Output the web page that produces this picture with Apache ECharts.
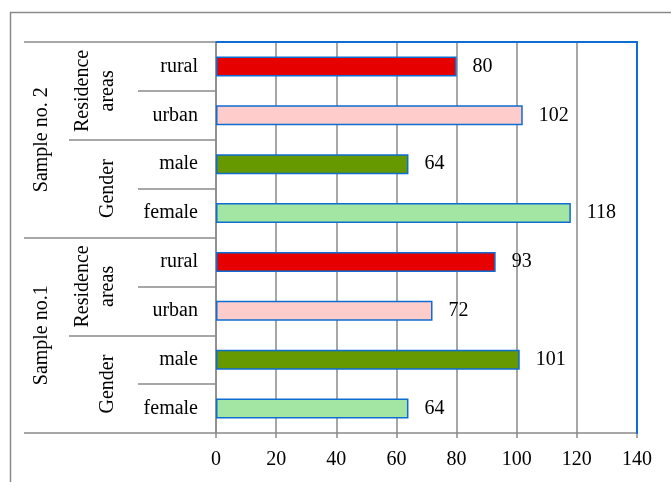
<!DOCTYPE html>
<html>
<head>
<meta charset="utf-8">
<script src="https://cdn.jsdelivr.net/npm/echarts@6/dist/echarts.min.js"></script>
<style>html,body{margin:0;padding:0;background:#fff;}#c{width:671px;height:482px;}</style>
</head>
<body>
<div id="c"></div>
<script>
// Data (bottom to top, as on the chart's category axis)
const itemLabels = ['female', 'male', 'urban', 'rural', 'female', 'male', 'urban', 'rural'];
const subLabels = ['Gender', 'Residence\nareas', 'Gender', 'Residence\nareas'];
const groupLabels = ['Sample no.1', 'Sample no. 2'];
const values = [64, 101, 72, 93, 118, 64, 102, 80];
const xTicks = [0, 20, 40, 60, 80, 100, 120, 140];
const itemColors = { female: '#A3E6A3', male: '#669900', urban: '#FFCCCC', rural: '#E60000' };

const FONT = 'Liberation Serif, Times New Roman, serif';
const GRAY = '#8a8a8a';
const BLUE = '#0F6CD2';

const chart = echarts.init(document.getElementById('c'), null, { renderer: 'canvas' });
chart.setOption({
  animation: false,
  graphic: [{
    type: 'rect', silent: true, z: -1,
    shape: { x: 10.5, y: 12.5, width: 700, height: 500 },
    style: { fill: 'none', stroke: GRAY, lineWidth: 1.5 }
  }],
  grid: { left: 216, right: 34, top: 42, bottom: 49, containLabel: false },
  xAxis: [{
    type: 'value', min: xTicks[0], max: xTicks[xTicks.length - 1], interval: 20,
    axisLine: { show: true, lineStyle: { color: GRAY, width: 1.5 } },
    axisTick: { show: true, length: 5, lineStyle: { color: GRAY, width: 1.5 } },
    axisLabel: { fontFamily: FONT, fontSize: 20, color: '#000', margin: 17 },
    splitLine: { show: true, lineStyle: { color: GRAY, width: 1.5 } }
  }, {
    type: 'value', position: 'top', min: 0, max: 140, interval: 20,
    axisLine: { show: true, lineStyle: { color: BLUE, width: 2 } },
    axisTick: { show: false }, axisLabel: { show: false }, splitLine: { show: false }
  }],
  yAxis: [{
    type: 'category', data: itemLabels, position: 'left',
    axisLine: { show: true, lineStyle: { color: GRAY, width: 1.5 } },
    axisTick: { show: true, length: 78, lineStyle: { color: GRAY, width: 1.5 } },
    axisLabel: { interval: 0, fontFamily: FONT, fontSize: 20, color: '#000', margin: 18 },
    splitLine: { show: false }
  }, {
    type: 'category', data: subLabels, position: 'left',
    axisLine: { show: false },
    axisTick: { show: true, length: 147, lineStyle: { color: GRAY, width: 1.5 } },
    axisLabel: { interval: 0, rotate: 90, fontFamily: FONT, fontSize: 20, lineHeight: 25, color: '#000', margin: 96 },
    splitLine: { show: false }
  }, {
    type: 'category', data: groupLabels, position: 'left',
    axisLine: { show: false },
    axisTick: { show: true, length: 192, lineStyle: { color: GRAY, width: 1.5 } },
    axisLabel: { interval: 0, rotate: 90, fontFamily: FONT, fontSize: 20, color: '#000', margin: 164 },
    splitLine: { show: false }
  }, {
    type: 'category', data: itemLabels, position: 'right', z: 5,
    axisLine: { show: true, lineStyle: { color: BLUE, width: 2 } },
    axisTick: { show: false }, axisLabel: { show: false }, splitLine: { show: false }
  }],
  series: [{
    type: 'bar', xAxisIndex: 0, yAxisIndex: 0, barWidth: '41%',
    data: values.map((v, i) => ({ value: v, itemStyle: { color: itemColors[itemLabels[i]] } })),
    itemStyle: { borderColor: BLUE, borderWidth: 1.5 },
    label: { show: true, position: 'right', distance: 16, fontFamily: FONT, fontSize: 20, color: '#000' }
  }]
});
</script>
</body>
</html>
